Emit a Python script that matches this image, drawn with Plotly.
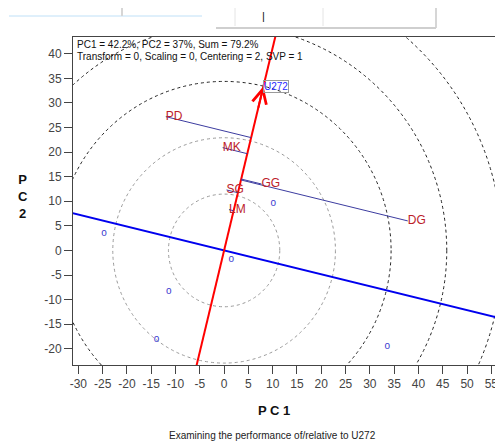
import numpy as np
import plotly.graph_objects as go

# ---------------- data ----------------
geno_names = ["PD", "MK", "SG", "GG", "LM", "DG"]
geno_pc1 = [-12.0, -0.3, 0.5, 7.7, 1.0, 37.8]
geno_pc2 = [27.2, 20.9, 12.3, 13.5, 8.3, 6.0]

env_pc1 = [10.1, 1.5, -11.4, -13.9, 33.6, -24.7]
env_pc2 = [9.6, -1.8, -8.4, -18.2, -19.5, 3.4]

focus_name = "U272"
focus_pc1 = 8.1
focus_pc2 = 33.4

x_ticks = list(range(-30, 60, 5))
y_ticks = list(range(-20, 45, 5))

info_line1 = "PC1 = 42.2%, PC2 = 37%, Sum = 79.2%"
info_line2 = "Transform = 0, Scaling = 0, Centering = 2, SVP = 1"
subtitle = "Examining the performance of/relative to U272"

# ---------------- geometry ----------------
OFF = 8  # page body margin
W, H = 503 - OFF, 444 - OFF
L, R, T = 73 - OFF, 0, 37 - OFF
B = H - T - (365 - 37)
PW, PH = W - L - R, H - T - B


def px(xp):
    return (xp - OFF - L) / PW


def py(yp):
    return (H - B - (yp - OFF)) / PH


FONT = "Arial, Liberation Sans, sans-serif"
u = np.array([focus_pc1, focus_pc2])
ulen = float(np.hypot(*u))
uh = u / ulen
vh = np.array([uh[1], -uh[0]])

fig = go.Figure()

# concentric circles
shapes = []
for k in range(1, 6):
    r = k * ulen / 3.0
    shapes.append(dict(type="circle", xref="x", yref="y", x0=-r, x1=r, y0=-r, y1=r,
                       line=dict(color="#9a9a9a" if k <= 2 else "#222222", width=1,
                                 dash="3px,3px"),
                       layer="below"))

# axis of focal environment (red) and perpendicular (blue)
t = np.array([-4.0, 4.0])
fig.add_trace(go.Scatter(x=t * vh[0] * 40, y=t * vh[1] * 40, mode="lines",
                         line=dict(color="#0000ee", width=2), hoverinfo="skip"))
fig.add_trace(go.Scatter(x=t * uh[0] * 40, y=t * uh[1] * 40, mode="lines",
                         line=dict(color="#ff0000", width=2), hoverinfo="skip"))

# projection lines
for gx, gy in zip(geno_pc1, geno_pc2):
    s = gx * uh[0] + gy * uh[1]
    fig.add_trace(go.Scatter(x=[gx, s * uh[0]], y=[gy, s * uh[1]], mode="lines",
                             line=dict(color="#3c3ca0", width=1), hoverinfo="skip"))

# environment markers
fig.add_trace(go.Scatter(x=env_pc1, y=env_pc2, mode="text", text=["o"] * len(env_pc1),
                         textposition="middle center",
                         textfont=dict(family=FONT, size=10, color="#3a3ad0")))

# genotype labels
fig.add_trace(go.Scatter(x=geno_pc1, y=geno_pc2, mode="text", text=geno_names,
                         textposition="middle right",
                         textfont=dict(family=FONT, size=12, color="#bc2129")))

annotations = [
    dict(x=focus_pc1, y=focus_pc2, xref="x", yref="y", ax=focus_pc1 * 0.86,
         ay=focus_pc2 * 0.86, axref="x", ayref="y", text="", showarrow=True,
         arrowhead=5, arrowsize=1.4, arrowwidth=2, arrowcolor="#ff0000"),
    dict(x=focus_pc1, y=focus_pc2, xref="x", yref="y", text=focus_name, showarrow=False,
         xanchor="left", yanchor="middle", font=dict(family=FONT, size=10, color="#2a2aff"),
         bordercolor="#9a9a9a", borderwidth=1, borderpad=0),
    dict(x=px(75), y=py(44), xref="paper", yref="paper", text=info_line1, showarrow=False,
         xanchor="left", yanchor="middle", font=dict(family=FONT, size=10, color="#111")),
    dict(x=px(75), y=py(56), xref="paper", yref="paper", text=info_line2, showarrow=False,
         xanchor="left", yanchor="middle", font=dict(family=FONT, size=10, color="#111")),
    dict(x=px(274), y=py(410), xref="paper", yref="paper", text="<b>P C 1</b>",
         showarrow=False, xanchor="center", yanchor="middle",
         font=dict(family=FONT, size=13, color="#111")),
    dict(x=px(23), y=py(196), xref="paper", yref="paper", text="<b>P<br>C<br>2</b>",
         showarrow=False, xanchor="center", yanchor="middle",
         font=dict(family=FONT, size=13, color="#111")),
    dict(x=px(272), y=py(435), xref="paper", yref="paper", text=subtitle,
         showarrow=False, xanchor="center", yanchor="middle",
         font=dict(family=FONT, size=10, color="#222")),
    dict(x=px(263), y=py(16), xref="paper", yref="paper", text="|",
         showarrow=False, xanchor="center", yanchor="middle",
         font=dict(family=FONT, size=11, color="#111")),
]

# window toolbar remnant at the top
def pline(x0, y0, x1, y1, color, width=1):
    return dict(type="line", xref="paper", yref="paper", x0=px(x0), y0=py(y0),
                x1=px(x1), y1=py(y1), line=dict(color=color, width=width))

shapes += [
    pline(9, 16, 202, 16, "#bfe0f7", 1),
    pline(122, 4, 436, 4, "#d6d6d6", 2),
    pline(122, 4, 122, 16, "#d6d6d6", 2),
    pline(436, 4, 436, 28, "#d6d6d6", 2),
    pline(216, 28, 436, 28, "#cfcfcf", 2),
    pline(235, 6, 235, 26, "#e4e4e4", 1),
    pline(323, 6, 323, 26, "#e4e4e4", 1),
]

axis_common = dict(showgrid=False, zeroline=False, showline=True, linecolor="#444",
                   linewidth=1, mirror=True, ticks="outside", ticklen=8, tickcolor="#444",
                   tickfont=dict(family=FONT, size=12, color="#444"))

fig.update_layout(
    width=W, height=H, margin=dict(l=L, r=R, t=T, b=B),
    paper_bgcolor="white", plot_bgcolor="white", showlegend=False,
    xaxis=dict(range=[-31.1, 57.4], tickvals=x_ticks,
               ticktext=[str(v) for v in x_ticks], **axis_common),
    yaxis=dict(range=[-23.3, 43.4], tickvals=y_ticks,
               ticktext=[str(v) for v in y_ticks], **axis_common),
    shapes=shapes, annotations=annotations,
)

fig.write_html("out.html")
